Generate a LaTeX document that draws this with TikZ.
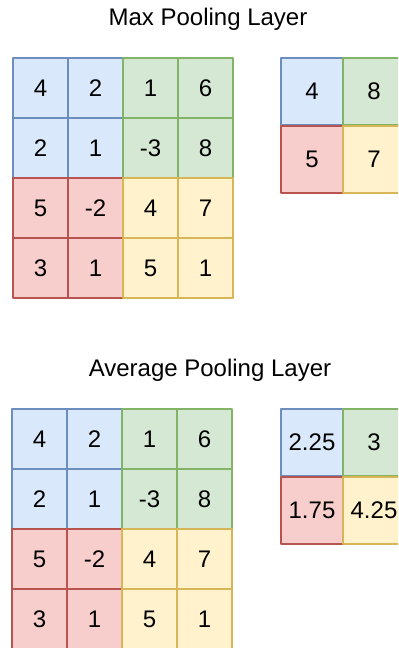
\documentclass[tikz,border=0pt]{standalone}
\usepackage{fontspec}
\setmainfont{Liberation Sans}
\definecolor{bluefill}{HTML}{DAE8FC}
\definecolor{blueline}{HTML}{6C8EBF}
\definecolor{greenfill}{HTML}{D5E8D4}
\definecolor{greenline}{HTML}{82B366}
\definecolor{redfill}{HTML}{F8CECC}
\definecolor{redline}{HTML}{B85450}
\definecolor{yellowfill}{HTML}{FFF2CC}
\definecolor{yellowline}{HTML}{D6B656}
\begin{document}
\begin{tikzpicture}[x=0.5pt, y=-0.5pt, font=\fontsize{12}{14}\selectfont, line join=round,
	cell/.style={rectangle, inner sep=0pt, line width=1pt, minimum width=27.5pt, minimum height=30pt},
	pcell/.style={cell, minimum width=31pt, minimum height=33.5pt},
	pblue/.style={fill=bluefill, draw=blueline},
	pgreen/.style={fill=greenfill, draw=greenline},
	pred/.style={fill=redfill, draw=redline},
	pyellow/.style={fill=yellowfill, draw=yellowline}]
			\clip (0,0) rectangle (398,648);
			\useasboundingbox (0,0) rectangle (398,648);
			% titles
			\node (maxt) at (208,19) {Max Pooling Layer};
			\node (avgt) at (210,370) {Average Pooling Layer};
			% input grids
			\foreach \g/\dx/\dy in {a/0/0,b/-1/351}
			\foreach \r/\c/\v/\s in {1/1/4/pblue,1/2/2/pblue,1/3/1/pgreen,1/4/6/pgreen,
				2/1/2/pblue,2/2/1/pblue,2/3/-3/pgreen,2/4/8/pgreen,
				3/1/5/pred,3/2/-2/pred,3/3/4/pyellow,3/4/7/pyellow,
				4/1/3/pred,4/2/1/pred,4/3/5/pyellow,4/4/1/pyellow}
			\node[cell,\s] (\g\r\c) at ({40.5+55*(\c-1)+\dx},{88+60*(\r-1)+\dy}) {\v};
			% max pooling output
			\foreach \r/\c/\v/\s in {1/1/4/pblue,1/2/8/pgreen,2/1/5/pred,2/2/7/pyellow}
			\node[pcell,\s] (m\r\c) at ({312+62*(\c-1)},{91.5+67.5*(\r-1)}) {\v};
			% average pooling output
			\foreach \r/\c/\v/\s in {1/1/2.25/pblue,1/2/3/pgreen,2/1/1.75/pred,2/2/4.25/pyellow}
			\node[pcell,\s] (p\r\c) at ({312+62*(\c-1)},{442.5+67.5*(\r-1)}) {\v};
		\end{tikzpicture}
\end{document}
